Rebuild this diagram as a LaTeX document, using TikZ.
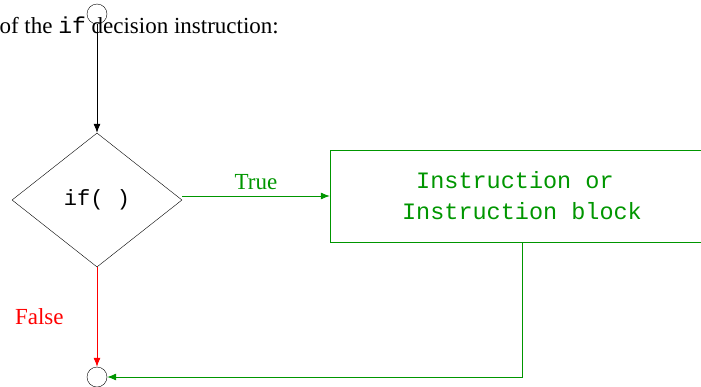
\documentclass[tikz,border=0pt]{standalone}
\usepackage{fontspec}
\setmainfont{Liberation Serif}
\setmonofont{Liberation Mono}
\usetikzlibrary{arrows.meta,positioning,calc,shapes.geometric}
\definecolor{flowgreen}{RGB}{0,150,0}
\definecolor{flowred}{RGB}{255,0,0}

\begin{document}
\begin{tikzpicture}[
  x=1pt, y=-1pt,
  font=\fontsize{23}{27}\selectfont,
  term/.style={draw, circle, minimum size=20pt, inner sep=0pt},
  cond/.style={draw, diamond, minimum width=170pt, minimum height=134pt, inner sep=0pt, font=\fontsize{22}{26}\selectfont\ttfamily},
  block/.style={draw=flowgreen, text=flowgreen, minimum width=384pt, minimum height=92pt, align=center, font=\fontsize{23.5}{31}\selectfont\ttfamily},
  lab/.style={inner sep=1pt},
  arr/.style={-{Latex[length=9pt, width=7pt]}, line width=0.8pt}
]
\useasboundingbox (0,0) rectangle (701,386);

% ---------- Heading ----------
\node[anchor=base east, inner sep=0pt] (head) at (279,33)
  {of the \texttt{if} decision instruction:};

% ---------- Start, test and block ----------
\node[term] (start) at (97,14) {};
\node[cond] (test) at (97,200) {if(~)};
\node[block] (body) at (522,196) {Instruction or\hphantom{ }\\Instruction block};
\node[term] (stop) at (97,377) {};

% ---------- Connectors ----------
\draw[arr] (start) -- (test.north);
\draw[arr, flowgreen] (test.east |- body.west) -- node[lab, above=5pt]{True} (body.west);
\draw[arr, flowred] (test.south) -- node[lab, pos=0.5, left=32pt]{False} (stop.north);
\draw[arr, flowgreen] (body.south) |- (stop.east);
\end{tikzpicture}
\end{document}
